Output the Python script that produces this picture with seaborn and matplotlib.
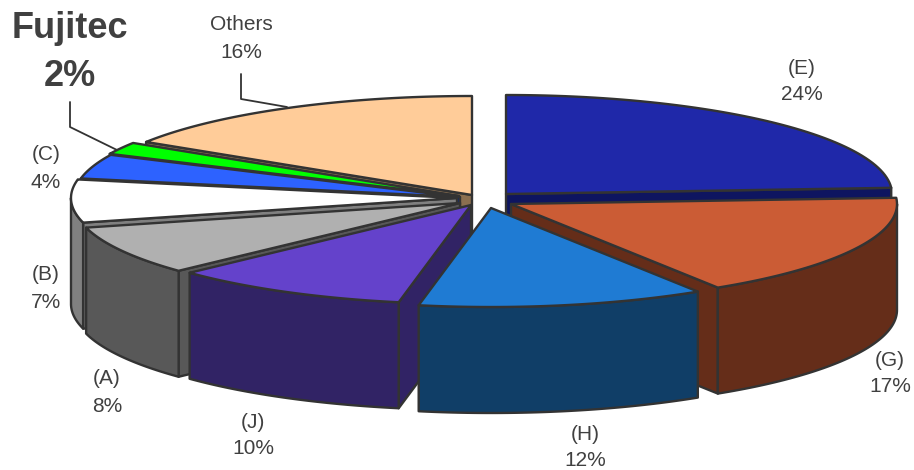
import numpy as np
import matplotlib
matplotlib.use('Agg')
import matplotlib.pyplot as plt
import seaborn as sns

# Share per maker, clockwise from 12 o'clock
names = ['(E)', '(G)', '(H)', '(J)', '(A)', '(B)', '(C)', 'Fujitec', 'Others']
shares = [24, 17, 12, 10, 8, 7, 4, 2, 16]

top_colors = ['#1F28A9', '#CB5C35', '#1F7BD3', '#6442CB', '#B0B0B0',
              '#FFFFFF', '#2D62FF', '#00FF00', '#FFCC99']
side_colors = ['#0E1560', '#652D19', '#103E67', '#312365', '#585858',
               '#808080', '#14296B', '#006B00', '#8B6F50']

# Where each slice's tip sits after exploding the pie
tip_x = [506, 511, 491, 471, 460, 457, 460, 459, 472]
tip_y = [194, 204, 208, 205, 203, 198, 197, 196, 195]

# Label centres
label_x = [802, 890, 585, 253, 107, 46, 46, 70, 241]
label_y = [68, 360, 434, 422, 379, 275, 155, 28, 25]
value_dy = [26, 27, 26, 26, 27, 27, 27, 48, 28]

RX = 386
RY = 99
DEPTH = 106
EDGE = '#333333'
TEXT = '#404040'

sns.set_theme(style='white')
plt.rcParams['font.family'] = ['Liberation Sans', 'DejaVu Sans']

fig, ax = plt.subplots(figsize=(9.14, 4.7), dpi=100)
fig.subplots_adjust(left=0, right=1, top=1, bottom=0)
ax.set_xlim(0, 914)
ax.set_ylim(470, 0)
ax.set_axis_off()

# Slice angles from the shares
edges = np.concatenate([[0], np.cumsum(shares)]) * 3.6


def rim(i, a0, a1):
    a = np.radians(np.linspace(a0, a1, 60))
    return tip_x[i] + RX * np.sin(a), tip_y[i] - RY * np.cos(a)


def draw_slice(i):
    a0, a1 = edges[i], edges[i + 1]
    kw = dict(edgecolor=EDGE, linewidth=1.7, joinstyle='round')

    # cut faces that look towards the viewer
    if 180 < a0 < 360:
        ex, ey = rim(i, a0, a0)
        ax.fill([tip_x[i], ex[0], ex[0], tip_x[i]],
                [tip_y[i], ey[0], ey[0] + DEPTH, tip_y[i] + DEPTH],
                facecolor=side_colors[i], **kw)
    if 0 < a1 < 180:
        ex, ey = rim(i, a1, a1)
        ax.fill([tip_x[i], ex[0], ex[0], tip_x[i]],
                [tip_y[i], ey[0], ey[0] + DEPTH, tip_y[i] + DEPTH],
                facecolor=side_colors[i], **kw)

    # outer wall, front half only
    w0, w1 = max(a0, 90), min(a1, 270)
    if w0 < w1:
        wx, wy = rim(i, w0, w1)
        ax.fill(np.r_[wx, wx[::-1]], np.r_[wy, wy[::-1] + DEPTH],
                facecolor=side_colors[i], **kw)

    # top
    tx, ty = rim(i, a0, a1)
    ax.fill(np.r_[tip_x[i], tx], np.r_[tip_y[i], ty],
            facecolor=top_colors[i], **kw)


# back slices first, front slices over them
for i in [8, 7, 6, 5, 4, 3, 0, 1, 2]:
    draw_slice(i)

# Leader lines
ax.plot([241, 241, 287], [74, 99, 107], color=EDGE, linewidth=1.3)
ax.plot([70, 70, 117], [102, 127, 150], color=EDGE, linewidth=1.3)

# Labels
for i, name in enumerate(names):
    big = name == 'Fujitec'
    size = 26 if big else 15
    weight = 'bold' if big else 'normal'
    ax.text(label_x[i], label_y[i], name, ha='center', va='center',
            fontsize=size, fontweight=weight, color=TEXT)
    ax.text(label_x[i], label_y[i] + value_dy[i], f'{shares[i]}%',
            ha='center', va='center', fontsize=size, fontweight=weight,
            color=TEXT)

fig.savefig('out.png', dpi=100, facecolor='white')
